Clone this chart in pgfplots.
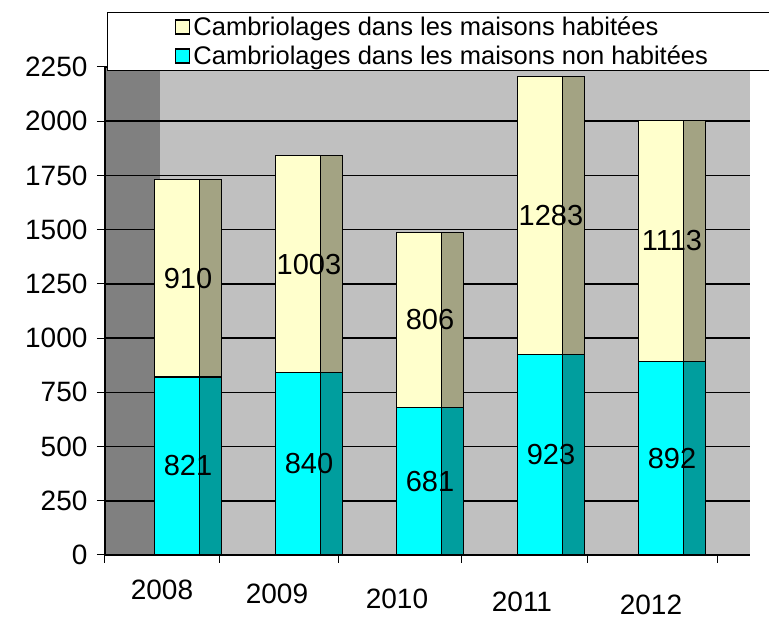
\documentclass[border=0pt]{standalone}
\usepackage{pgfplots}
\pgfplotsset{compat=1.18}
\usepackage{pgfplotstable}
\usepackage{fontspec}
\setmainfont{Liberation Sans}
\definecolor{lemon}{HTML}{FFFFCC}
\definecolor{aqua}{HTML}{00FFFF}
\definecolor{lemonside}{HTML}{A3A383}
\definecolor{aquaside}{HTML}{009E9E}
\definecolor{wall}{HTML}{C0C0C0}
\definecolor{sidewall}{HTML}{808080}

\pgfplotsset{sq legend/.style={legend image code/.code={\path[draw=none, fill=none] (0pt,-14.5pt) rectangle (86pt,14.5pt); \draw[##1, draw=black, line width=1.5pt] (68pt,-7pt) rectangle (82pt,7pt);}}}

\pgfplotstableread{
x year non hab
0 2008 821 910
1 2009 840 1003
2 2010 681 806
3 2011 923 1283
4 2012 892 1113
}\data

\begin{document}
\begin{tikzpicture}
\path[use as bounding box] (0pt,0pt) rectangle (769pt,621pt);
\begin{axis}[
  at={(105pt,66pt)}, anchor=south west,
  scale only axis, width=645pt, height=488pt,
  xmin=-0.686, xmax=4.645, ymin=0, ymax=2250,
  ytick={0,250,...,2250},
  xtick={0,...,4},
  xticklabels={{\kern-4pt 2008},{\raisebox{-4pt}[\height][0pt]{\kern-16pt 2009}},{\raisebox{-9pt}[\height][0pt]{\kern-18pt 2010}},{\raisebox{-12pt}[\height][0pt]{\kern-10pt 2011}},{\raisebox{-15pt}[\height][0pt]{\kern6pt 2012}}},
  minor xtick={-0.686,0.264,1.24,2.26,3.3,4.38},
  every major x tick/.append style={opacity=0},
  tick align=outside,
  major tick length=8pt, minor tick length=8pt,
  tick style={black, line width=1pt},
  axis x line*=bottom, axis y line*=left,
  axis line style={black, line width=1.2pt},
  axis background/.style={fill=wall, path picture={\fill[sidewall] (path picture bounding box.south west) rectangle ([xshift=55pt]path picture bounding box.north west);}},
  ymajorgrids, major grid style={black, line width=1.5pt},
  scaled y ticks=false,
  /pgf/number format/1000 sep={},
  /pgf/number format/assume math mode=true,
  yticklabel style={font=\fontsize{28}{32}\selectfont, xshift=-6pt},
  xticklabel style={font=\fontsize{28}{32}\selectfont, inner sep=1pt, xshift=-24pt, yshift=-16pt},
  legend style={at={(axis description cs:0.003,1.1127)}, anchor=north west, draw=black, line width=1pt, fill=white, inner sep=0pt, nodes={inner sep=0pt}, column sep=0pt, row sep=0pt, font=\fontsize{25.5}{29}\selectfont},
  legend cell align=left,
  ybar, bar width=45pt,
]
% side faces
\addplot[forget plot, bar width=22pt, bar shift=22.5pt, fill=lemonside, draw=black, line width=1.2pt] table[x=x, y expr=\thisrow{non}+\thisrow{hab}] {\data};
\addplot[forget plot, bar width=22pt, bar shift=22.5pt, fill=aquaside, draw=black, line width=1.2pt] table[x=x, y=non] {\data};
% front faces
\addplot[forget plot, bar shift=-11pt, fill=lemon, draw=black, line width=1.2pt] table[x=x, y expr=\thisrow{non}+\thisrow{hab}] {\data};
\addplot[forget plot, bar shift=-11pt, fill=aqua, draw=black, line width=1.2pt] table[x=x, y=non] {\data};
% labels
\addplot[forget plot, draw=none, fill=none, bar shift=-11pt,
  nodes near coords, point meta=explicit,
  every node near coord/.style={anchor=center, font=\fontsize{29}{32}\selectfont}]
  table[x=x, y expr=\thisrow{non}/2, meta=non] {\data};
\addplot[forget plot, draw=none, fill=none, bar shift=-11pt,
  nodes near coords, point meta=explicit,
  every node near coord/.style={anchor=center, font=\fontsize{29}{32}\selectfont}]
  table[x=x, y expr=\thisrow{non}+\thisrow{hab}/2, meta=hab] {\data};
\addlegendimage{sq legend, fill=lemon}
\addlegendentry{\makebox[700pt][l]{Cambriolages dans les maisons habitées}}
\addlegendimage{sq legend, fill=aqua}
\addlegendentry{\makebox[700pt][l]{Cambriolages dans les maisons non habitées}}
\end{axis}
\end{tikzpicture}
\end{document}
